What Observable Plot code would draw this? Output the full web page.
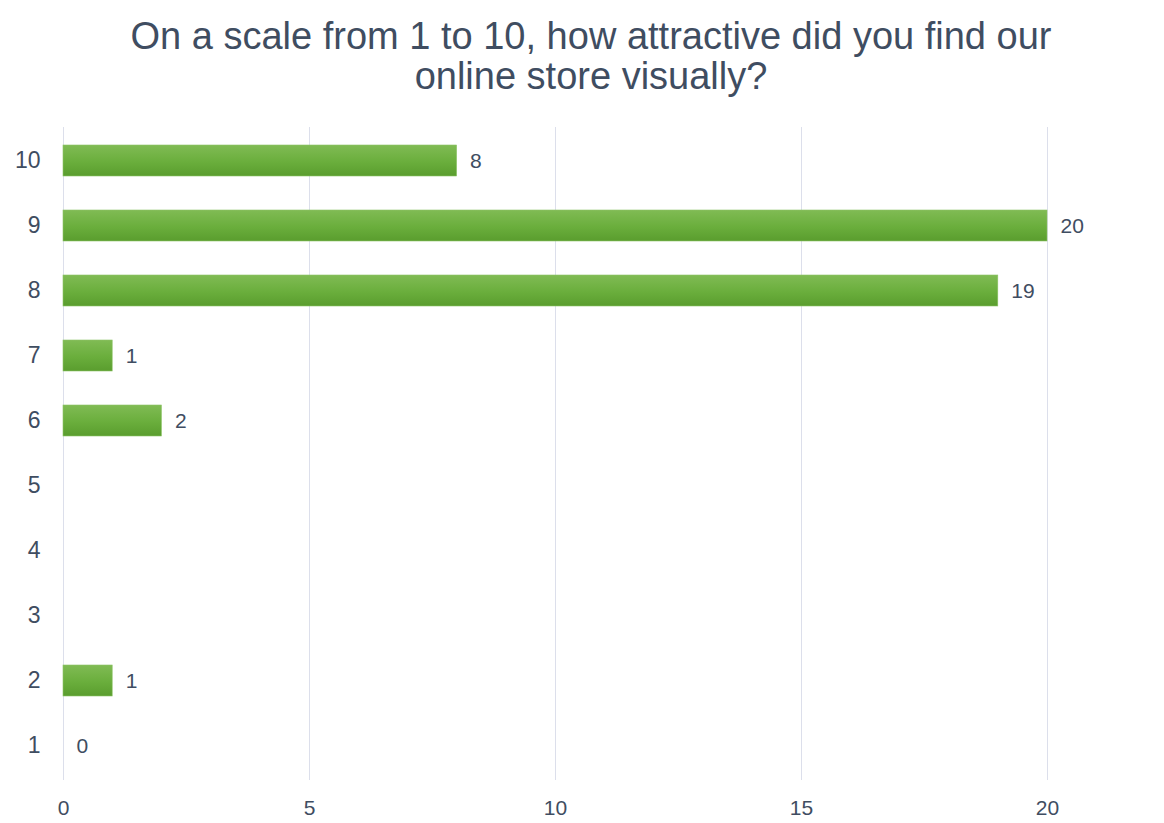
<!DOCTYPE html>
<html>
<head>
<meta charset="utf-8">
<script src="https://cdn.jsdelivr.net/npm/d3@7"></script>
<script src="https://cdn.jsdelivr.net/npm/@observablehq/plot@0.6"></script>
<style>
  html, body { margin: 0; padding: 0; background: #ffffff; }
  body { width: 1164px; height: 823px; overflow: hidden; font-family: "Liberation Sans", Arial, Helvetica, sans-serif; }
  #title { height: 100px; box-sizing: border-box; padding-top: 16px; text-align: center; font-size: 38px; line-height: 40px; color: #3f4d61; padding-left: 18px; }
  #chart svg { display: block; }
</style>
</head>
<body>
<svg width="0" height="0" style="position:absolute">
  <defs>
    <linearGradient id="barGrad" x1="0" y1="0" x2="0" y2="1">
      <stop offset="0%" stop-color="#80bb54"/>
      <stop offset="55%" stop-color="#6aae3c"/>
      <stop offset="100%" stop-color="#5a9d2e"/>
    </linearGradient>
  </defs>
</svg>
<div id="title">On a scale from 1 to 10, how attractive did you find our<br>online store visually?</div>
<div id="chart"></div>
<script>
const categories = ["10", "9", "8", "7", "6", "5", "4", "3", "2", "1"];
const counts = [8, 20, 19, 1, 2, null, null, null, 1, 0];
const xTicks = [0, 5, 10, 15, 20];

const data = categories.map((c, i) => ({category: c, count: counts[i]}));
const barData = data.filter(d => d.count != null && d.count > 0);
const labelData = data.filter(d => d.count != null);

const chart = Plot.plot({
  width: 1164,
  height: 723,
  marginTop: 27,
  marginBottom: 43,
  marginLeft: 63,
  marginRight: 117,
  style: {fontFamily: "'Liberation Sans', Arial, Helvetica, sans-serif", color: "#3f4d61", background: "#ffffff"},
  x: {domain: [0, 20], ticks: xTicks, label: null},
  y: {domain: categories, label: null, paddingInner: 0.52, paddingOuter: 0.23},
  marks: [
    Plot.ruleX(xTicks, {stroke: "#dcdfeb", strokeWidth: 1}),
    Plot.barX(barData, {x: "count", y: "category", fill: "url(#barGrad)", stroke: "#8cc466", strokeWidth: 0.6}),
    Plot.text(labelData, {x: "count", y: "category", text: d => String(d.count), textAnchor: "start", dx: 13, fontSize: 21, fill: "#3f4d61"}),
    Plot.axisY({tickSize: 0, tickPadding: 23, fontSize: 23, fill: "#3f4d61"}),
    Plot.axisX({ticks: xTicks, tickSize: 0, tickPadding: 20, fontSize: 21, fill: "#3f4d61"})
  ]
});
document.getElementById("chart").appendChild(chart);
</script>
</body>
</html>
